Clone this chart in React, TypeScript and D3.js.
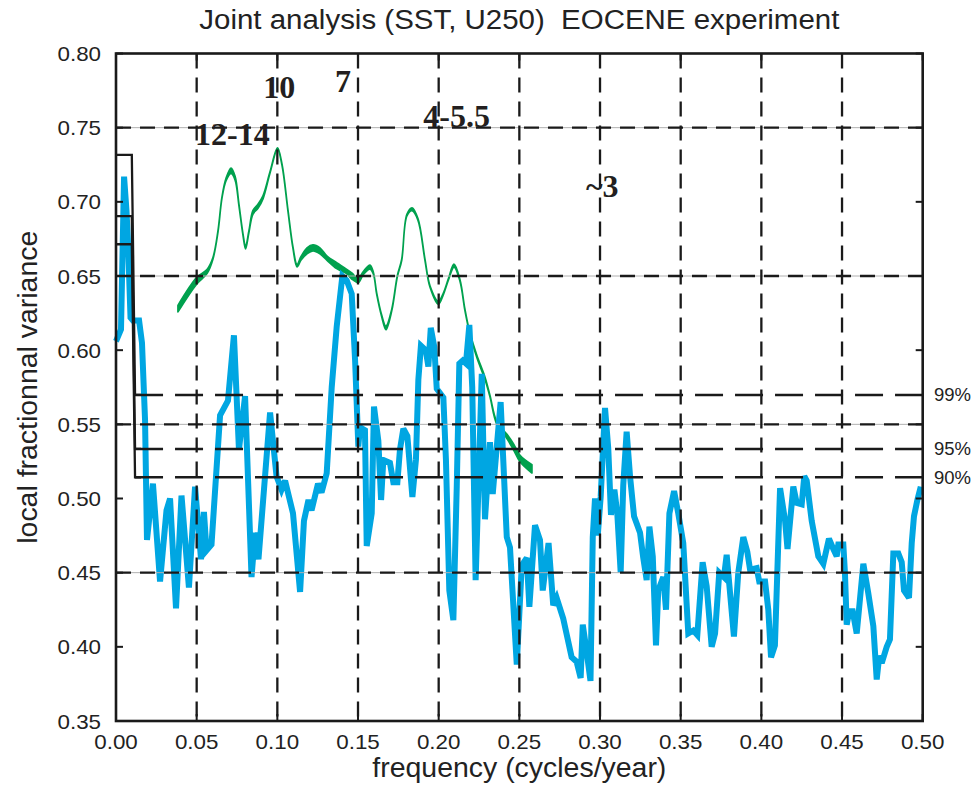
import React from "react";
import * as d3 from "d3";

// ---- data ----
const blueFreq = [
  0.0, 0.0031, 0.005, 0.0065, 0.0074, 0.009, 0.0105, 0.0143, 0.0161, 0.018,
  0.0192, 0.0229, 0.0273, 0.0313, 0.0335, 0.0372, 0.0406, 0.0452, 0.049, 0.0527,
  0.0545, 0.0561, 0.0592, 0.0645, 0.0694, 0.0731, 0.0762, 0.08, 0.084, 0.0862,
  0.0883, 0.0955, 0.0995, 0.1026, 0.1048, 0.1097, 0.1141, 0.1165, 0.1193, 0.1212,
  0.1252, 0.1274, 0.1306, 0.1337, 0.1368, 0.1403, 0.143, 0.1461, 0.1482, 0.1502,
  0.1512, 0.1543, 0.1554, 0.1585, 0.1599, 0.1626, 0.1643, 0.1657, 0.1698, 0.1719,
  0.1744, 0.176, 0.1781, 0.1806, 0.1837, 0.1859, 0.1874, 0.189, 0.192, 0.1936,
  0.1951, 0.1973, 0.1988, 0.2029, 0.2045, 0.2066, 0.2091, 0.2112, 0.2128, 0.2149,
  0.2169, 0.219, 0.2208, 0.2229, 0.225, 0.2267, 0.2287, 0.2318, 0.2335, 0.2384,
  0.2422, 0.2442, 0.2484, 0.2515, 0.2546, 0.2562, 0.2597, 0.2628, 0.2645, 0.2681,
  0.271, 0.2731, 0.2772, 0.2824, 0.2855, 0.288, 0.2893, 0.2913, 0.2941, 0.2955,
  0.2969, 0.2986, 0.3004, 0.3031, 0.3051, 0.3068, 0.3089, 0.3107, 0.3128, 0.3144,
  0.3165, 0.3186, 0.3211, 0.3248, 0.3268, 0.3289, 0.3306, 0.3327, 0.3347, 0.3361,
  0.3392, 0.3409, 0.343, 0.3459, 0.3485, 0.3516, 0.3547, 0.3578, 0.3603, 0.3636,
  0.3661, 0.3692, 0.3713, 0.3739, 0.3768, 0.3785, 0.383, 0.3857, 0.3888, 0.3913,
  0.393, 0.3971, 0.3987, 0.4023, 0.4043, 0.406, 0.4084, 0.4116, 0.4147, 0.4162,
  0.4198, 0.4219, 0.425, 0.4266, 0.4281, 0.4312, 0.4353, 0.4384, 0.4419, 0.4446,
  0.4467, 0.4477, 0.4508, 0.4518, 0.4529, 0.4545, 0.4566, 0.4591, 0.4632, 0.4663,
  0.4694, 0.4715, 0.4731, 0.4746, 0.4777, 0.4797, 0.4818, 0.4849, 0.487, 0.4884,
  0.4915, 0.4932, 0.4946, 0.4967, 0.4988,
];
const blueValues = [
  0.606, 0.614, 0.717, 0.694, 0.674, 0.622, 0.62, 0.62, 0.605, 0.553,
  0.472, 0.51, 0.444, 0.492, 0.5, 0.426, 0.502, 0.44, 0.508, 0.459,
  0.491, 0.465, 0.469, 0.556, 0.566, 0.61, 0.533, 0.569, 0.447, 0.477,
  0.459, 0.558, 0.515, 0.506, 0.512, 0.49, 0.437, 0.485, 0.499, 0.492,
  0.51, 0.504, 0.517, 0.575, 0.616, 0.65, 0.647, 0.638, 0.593, 0.535,
  0.548, 0.546, 0.468, 0.49, 0.562, 0.539, 0.499, 0.526, 0.524, 0.511,
  0.511, 0.533, 0.547, 0.542, 0.501, 0.526, 0.58, 0.603, 0.6, 0.589,
  0.615, 0.602, 0.574, 0.568, 0.526, 0.438, 0.418, 0.508, 0.591, 0.593,
  0.591, 0.617, 0.575, 0.445, 0.521, 0.584, 0.486, 0.538, 0.503, 0.565,
  0.474, 0.467, 0.388, 0.455, 0.46, 0.427, 0.482, 0.472, 0.438, 0.47,
  0.428, 0.433, 0.419, 0.393, 0.39, 0.379, 0.415, 0.4, 0.377, 0.474,
  0.5, 0.475, 0.501, 0.561, 0.534, 0.489, 0.506, 0.49, 0.45, 0.509,
  0.545, 0.515, 0.488, 0.477, 0.46, 0.445, 0.481, 0.461, 0.401, 0.438,
  0.447, 0.425, 0.49, 0.505, 0.49, 0.47, 0.409, 0.411, 0.408, 0.457,
  0.441, 0.4, 0.409, 0.45, 0.447, 0.462, 0.407, 0.45, 0.474, 0.464,
  0.452, 0.453, 0.444, 0.444, 0.425, 0.393, 0.401, 0.507, 0.485, 0.466,
  0.508, 0.497, 0.496, 0.515, 0.512, 0.485, 0.461, 0.456, 0.473, 0.466,
  0.461, 0.469, 0.469, 0.45, 0.415, 0.424, 0.424, 0.409, 0.456, 0.436,
  0.414, 0.378, 0.394, 0.389, 0.4, 0.405, 0.463, 0.463, 0.457, 0.438,
  0.433, 0.47, 0.488, 0.499, 0.508,
];

const greenFreq = [
  0.0384, 0.0502, 0.0564, 0.0601, 0.0632, 0.0657, 0.0682, 0.0713, 0.0738, 0.0762,
  0.0787, 0.0803, 0.0824, 0.0849, 0.088, 0.0911, 0.0955, 0.1001, 0.1029, 0.1066,
  0.1097, 0.1122, 0.1147, 0.1184, 0.1221, 0.1264, 0.1308, 0.1368, 0.143, 0.1461,
  0.1502, 0.1533, 0.1574, 0.1595, 0.1616, 0.1647, 0.1673, 0.1709, 0.1744, 0.1771,
  0.1803, 0.1835, 0.1872, 0.1915, 0.1946, 0.1998, 0.2029, 0.2061, 0.2095, 0.2132,
  0.2163, 0.2194, 0.2236, 0.2287, 0.2318, 0.236, 0.2422, 0.2463, 0.2504, 0.2578,
];
const greenValues = [
  0.628, 0.647, 0.653, 0.662, 0.68, 0.703, 0.715, 0.721, 0.716, 0.698,
  0.678, 0.669, 0.68, 0.693, 0.697, 0.703, 0.72, 0.736, 0.725, 0.694,
  0.669, 0.657, 0.662, 0.667, 0.669, 0.667, 0.662, 0.657, 0.653, 0.65,
  0.647, 0.652, 0.656, 0.652, 0.638, 0.623, 0.615, 0.627, 0.65, 0.661,
  0.691, 0.695, 0.688, 0.661, 0.643, 0.632, 0.638, 0.648, 0.657, 0.647,
  0.627, 0.611, 0.596, 0.581, 0.569, 0.551, 0.542, 0.535, 0.527, 0.52,
];
// half-thickness of the green band (variance units)
const greenSpread = [
  0.0022, 0.0022, 0.0014, 0.0005, 0.0004, 0.0004, 0.0008, 0.0018, 0.0012, 0.0005,
  0.0004, 0.0008, 0.0005, 0.0012, 0.0014, 0.001, 0.0004, 0.0004, 0.0004, 0.0004,
  0.0004, 0.0008, 0.0012, 0.002, 0.002, 0.002, 0.0014, 0.002, 0.0014, 0.002,
  0.0014, 0.001, 0.0014, 0.0006, 0.0004, 0.0005, 0.0012, 0.0005, 0.0004, 0.0004,
  0.0005, 0.001, 0.0005, 0.0004, 0.0004, 0.001, 0.0005, 0.0005, 0.001, 0.0005,
  0.0004, 0.0004, 0.0008, 0.0008, 0.0005, 0.0008, 0.0014, 0.002, 0.0022, 0.0028,
];

const thresholdLabels = ["99%", "95%", "90%"];
const thresholdLow = [0.5698, 0.5334, 0.5143];
const thresholdHigh = [0.7316, 0.6904, 0.6714];
const stepFreq = [0.0098, 0.0118];

const xTicks = [0, 0.05, 0.1, 0.15, 0.2, 0.25, 0.3, 0.35, 0.4, 0.45, 0.5];
const yTicks = [0.35, 0.4, 0.45, 0.5, 0.55, 0.6, 0.65, 0.7, 0.75, 0.8];
const gridX = [0.05, 0.1, 0.15, 0.2, 0.25, 0.3, 0.35, 0.4, 0.45];
const gridY = [0.45, 0.55, 0.65, 0.75];

const annotationText = ["12-14", "10", "7", "4-5.5", "~3"];
const annotationFreq = [0.049, 0.0913, 0.1357, 0.1905, 0.2913];
const annotationValue = [0.7383, 0.7698, 0.7742, 0.7507, 0.7033];

const title = "Joint analysis (SST, U250)  EOCENE experiment";
const xLabel = "frequency (cycles/year)";
const yLabel = "local fractionnal variance";

export default function App() {
  const W = 979;
  const H = 788;
  const x = d3.scaleLinear().domain([0, 0.5]).range([116, 922.7]);
  const y = d3.scaleLinear().domain([0.35, 0.8]).range([721, 53.5]);
  const [x0, x1] = x.range();
  const [yb, yt] = y.range();

  const blueLine = d3
    .line<number>()
    .x((_, i) => x(blueFreq[i]))
    .y((d) => y(d))(blueValues) as string;

  const greenArea = d3
    .area<number>()
    .x((_, i) => x(greenFreq[i]))
    .y0((d, i) => y(d - greenSpread[i]))
    .y1((d, i) => y(d + greenSpread[i]))
    .curve(d3.curveCatmullRom)(greenValues) as string;

  const sans = "'Liberation Sans', Arial, Helvetica, sans-serif";
  const serif = "'Liberation Serif', 'Times New Roman', serif";
  const fmt = d3.format(".2f");

  return (
    <svg
      width={W}
      height={H}
      style={{ position: "absolute", left: 0, top: 0, background: "#fff" }}
    >
      <rect width={W} height={H} fill="#fff" />
      {/* data */}
      <path d={greenArea} fill="#00a14e" stroke="#00a14e" strokeWidth={1.7} strokeLinejoin="round" />
      <path
        d={blueLine}
        fill="none"
        stroke="#00a6e2"
        strokeWidth={6}
        strokeLinejoin="miter"
        strokeMiterlimit={3}
      />

      {/* grid */}
      {gridY.map((g) => (
        <g key={"gy" + g}>
          <line x1={x0} x2={x1} y1={y(g)} y2={y(g)} stroke="#b0b0b0" strokeWidth={1} />
          <line
            x1={x0}
            x2={x1}
            y1={y(g)}
            y2={y(g)}
            stroke="#1a1a1a"
            strokeWidth={2.3}
            strokeDasharray="15 9"
          />
        </g>
      ))}
      {gridX.map((g) => (
        <line
          key={"gx" + g}
          x1={x(g)}
          x2={x(g)}
          y1={yt}
          y2={yb}
          stroke="#1a1a1a"
          strokeWidth={2.3}
          strokeDasharray="15 9"
        />
      ))}

      {/* significance levels */}
      {thresholdLow.map((lv, i) => (
        <g key={"th" + i}>
          <path
            d={`M${x(0)},${y(thresholdHigh[i])}H${x(stepFreq[0])}L${x(stepFreq[1])},${y(lv)}H${x(stepFreq[1]) + 6}`}
            fill="none"
            stroke="#1a1a1a"
            strokeWidth={2.3}
          />
          <line
            x1={x(stepFreq[1])}
            x2={x1}
            y1={y(lv)}
            y2={y(lv)}
            stroke="#1a1a1a"
            strokeWidth={2.5}
            strokeDasharray="28 12"
          />
          <text
            x={934}
            y={y(lv) + 6.5}
            fontFamily={sans}
            fontSize={18.5}
            fill="#222"
          >
            {thresholdLabels[i]}
          </text>
        </g>
      ))}

      {/* ticks */}
      {yTicks.map((t) => (
        <g key={"yt" + t}>
          <line x1={x0} x2={x0 + 7} y1={y(t)} y2={y(t)} stroke="#1a1a1a" strokeWidth={2} />
          <line x1={x1} x2={x1 - 7} y1={y(t)} y2={y(t)} stroke="#1a1a1a" strokeWidth={2} />
          <text
            x={101}
            y={y(t) + 7.6}
            textAnchor="end"
            fontFamily={sans}
            fontSize={21}
            textLength={43.5}
            lengthAdjust="spacingAndGlyphs"
            fill="#222"
          >
            {fmt(t)}
          </text>
        </g>
      ))}
      {xTicks.map((t) => (
        <g key={"xt" + t}>
          <line x1={x(t)} x2={x(t)} y1={yb} y2={yb - 7} stroke="#1a1a1a" strokeWidth={2} />
          <line x1={x(t)} x2={x(t)} y1={yt} y2={yt + 7} stroke="#1a1a1a" strokeWidth={2} />
          <text
            x={x(t)}
            y={748.5}
            textAnchor="middle"
            fontFamily={sans}
            fontSize={21}
            textLength={43.5}
            lengthAdjust="spacingAndGlyphs"
            fill="#222"
          >
            {fmt(t)}
          </text>
        </g>
      ))}

      {/* frame */}
      <rect
        x={x0}
        y={yt}
        width={x1 - x0}
        height={yb - yt}
        fill="none"
        stroke="#1a1a1a"
        strokeWidth={2.6}
      />

      {/* annotations */}
      {annotationText.map((t, i) => (
        <text
          key={"an" + i}
          x={x(annotationFreq[i])}
          y={y(annotationValue[i])}
          fontFamily={serif}
          fontWeight="bold"
          fontSize={32}
          fill="#231f20"
        >
          {t}
        </text>
      ))}

      {/* titles */}
      <text
        x={(x0 + x1) / 2}
        y={29}
        textAnchor="middle"
        fontFamily={sans}
        fontSize={27}
        textLength={640}
        lengthAdjust="spacingAndGlyphs"
        fill="#222"
        style={{ whiteSpace: "pre" }}
      >
        {title}
      </text>
      <text
        x={(x0 + x1) / 2}
        y={777}
        textAnchor="middle"
        fontFamily={sans}
        fontSize={27}
        textLength={294}
        lengthAdjust="spacingAndGlyphs"
        fill="#222"
      >
        {xLabel}
      </text>
      <text
        transform={`translate(37,${(yt + yb) / 2}) rotate(-90)`}
        textAnchor="middle"
        fontFamily={sans}
        fontSize={27}
        textLength={313}
        lengthAdjust="spacingAndGlyphs"
        fill="#222"
      >
        {yLabel}
      </text>
    </svg>
  );
}
